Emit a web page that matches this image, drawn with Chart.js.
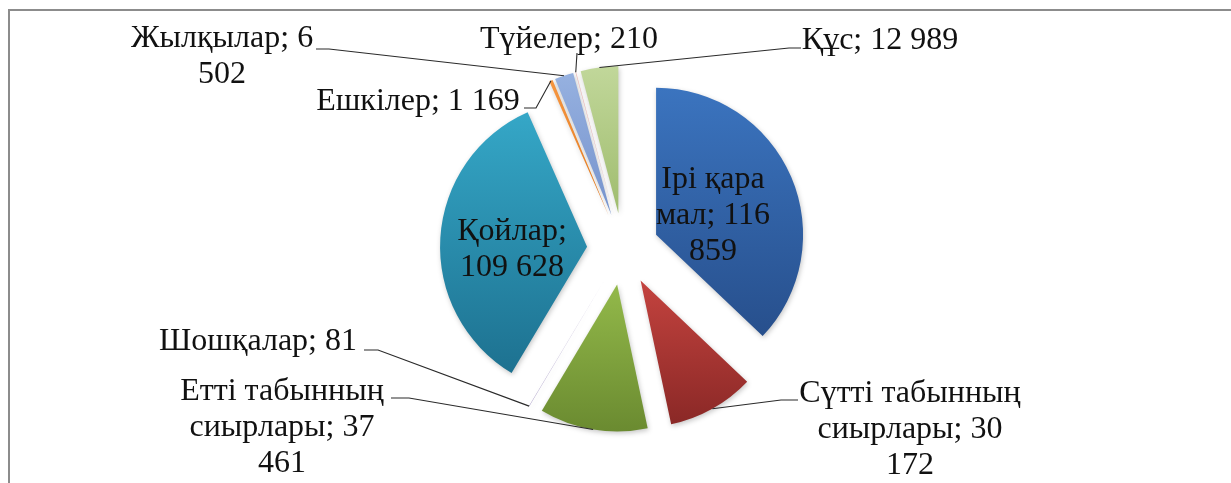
<!DOCTYPE html>
<html>
<head>
<meta charset="utf-8">
<script src="https://cdn.jsdelivr.net/npm/chart.js@4.4.3/dist/chart.umd.min.js"></script>
<style>
  html, body { margin: 0; padding: 0; background: #fff; }
  body { width: 1231px; height: 483px; overflow: hidden; position: relative; }
  #frame { position: absolute; left: 8px; top: 9px; width: 1300px; height: 600px;
           border-left: 2px solid #8c8c8c; border-top: 2px solid #8c8c8c; }
  #pie { position: absolute; left: 0; top: 0; }
</style>
</head>
<body>
<div id="frame"></div>
<canvas id="pie" width="1231" height="483"></canvas>
<script>
// Livestock numbers (head)
const categories = ['Ірі қара мал', 'Сүтті табынның сиырлары', 'Етті табынның сиырлары', 'Шошқалар',
  'Қойлар', 'Ешкілер', 'Жылқылар', 'Түйелер', 'Құс'];
const values = [116859, 30172, 37461, 81, 109628, 1169, 6502, 210, 12989];

// gradient colours per slice: top -> bottom
const topColors = ['#3b74bf', '#c4433f', '#93b94a', '#a99bc9', '#35a7c7', '#f7963f', '#96b1e0', '#ebb5b3', '#c1d79a'];
const bottomColors = ['#274f8c', '#8a2826', '#6a8a30', '#8170ad', '#1d7190', '#e57a1e', '#7592cc', '#d99896', '#9fbc6e'];

const RADIUS = 147;
const EXPLODE = 36;
const FONT = '32px "Liberation Serif", "Times New Roman", serif';
const LINE_H = 36;

// label placement: text centre x, first baseline y, wrap width, leader path (label side first)
const labelLayout = [
  { x: 713, y: 188, wrap: 125 },
  { x: 910, y: 402, wrap: 230, path: [[798, 400], [781, 400]] },
  { x: 282, y: 400, wrap: 230, path: [[391, 398], [409, 398]] },
  { x: 258, y: 350, wrap: 400, path: [[364, 350], [378, 350]] },
  { x: 512, y: 240, wrap: 125 },
  { x: 418, y: 110, wrap: 400, path: [[524, 108], [536, 108]] },
  { x: 222, y: 47, wrap: 200, path: [[316, 49], [329, 49]] },
  { x: 569, y: 48, wrap: 400, path: [[577, 53]] },
  { x: 880, y: 49, wrap: 400, path: [[801, 48], [789, 48]] }
];

function fmt(v) {
  return String(v).replace(/\B(?=(\d{3})+(?!\d))/g, ' ');
}

function wrapText(ctx, text, maxW) {
  const words = text.split(' ');
  const lines = [];
  let cur = '';
  for (const w of words) {
    const test = cur ? cur + ' ' + w : w;
    if (cur && ctx.measureText(test).width > maxW) {
      lines.push(cur);
      cur = w;
    } else {
      cur = test;
    }
  }
  if (cur) lines.push(cur);
  return lines;
}

function pieCenter(chart) {
  const a = chart.chartArea;
  return { cx: (a.left + a.right) / 2, cy: (a.top + a.bottom) / 2 };
}

// vertical extent of an exploded slice, worked out from the data
function sliceBox(chart, i) {
  const { cy } = pieCenter(chart);
  const total = values.reduce((a, b) => a + b, 0);
  let a0 = 0;
  for (let k = 0; k < i; k++) a0 += values[k] / total * Math.PI * 2;
  const a1 = a0 + values[i] / total * Math.PI * 2;
  const mid = (a0 + a1) / 2;
  const ay = cy - Math.cos(mid) * EXPLODE;
  let top = ay, bot = ay;
  for (let s = 0; s <= 40; s++) {
    const t = a0 + (a1 - a0) * s / 40;
    const y = ay - Math.cos(t) * RADIUS;
    top = Math.min(top, y);
    bot = Math.max(bot, y);
  }
  return { top, bot };
}

function sliceFill(context) {
  const chart = context.chart;
  const i = context.dataIndex;
  if (!chart.chartArea || i === undefined) return topColors[i || 0];
  const { top, bot } = sliceBox(chart, i);
  const g = chart.ctx.createLinearGradient(0, top, 0, bot + 1);
  g.addColorStop(0, topColors[i]);
  g.addColorStop(1, bottomColors[i]);
  return g;
}

// push every slice out from the centre along its mid angle
const explodePlugin = {
  id: 'explode',
  beforeDatasetsDraw(chart) {
    const { cx, cy } = pieCenter(chart);
    chart.getDatasetMeta(0).data.forEach(el => {
      const mid = (el.startAngle + el.endAngle) / 2;
      el.x = cx + Math.cos(mid) * EXPLODE;
      el.y = cy + Math.sin(mid) * EXPLODE;
    });
    const ctx = chart.ctx;
    ctx.save();
    ctx.shadowColor = 'rgba(0,0,0,0.22)';
    ctx.shadowBlur = 5;
    ctx.shadowOffsetX = 1;
    ctx.shadowOffsetY = 2;
  },
  afterDatasetsDraw(chart) {
    chart.ctx.restore();
  }
};

const labelPlugin = {
  id: 'sliceLabels',
  afterDraw(chart) {
    const ctx = chart.ctx;
    const meta = chart.getDatasetMeta(0);
    ctx.save();
    ctx.font = FONT;
    ctx.fillStyle = '#111';
    ctx.textAlign = 'center';
    ctx.textBaseline = 'alphabetic';
    meta.data.forEach((el, i) => {
      const lay = labelLayout[i];
      const text = categories[i] + '; ' + fmt(values[i]);
      const lines = wrapText(ctx, text, lay.wrap);
      lines.forEach((ln, k) => ctx.fillText(ln, lay.x, lay.y + k * LINE_H));
      if (lay.path) {
        const mid = (el.startAngle + el.endAngle) / 2;
        const ax = el.x + Math.cos(mid) * el.outerRadius;
        const ay = el.y + Math.sin(mid) * el.outerRadius;
        ctx.beginPath();
        ctx.moveTo(lay.path[0][0], lay.path[0][1]);
        for (let k = 1; k < lay.path.length; k++) ctx.lineTo(lay.path[k][0], lay.path[k][1]);
        ctx.lineTo(ax, ay);
        ctx.strokeStyle = '#2a2a2a';
        ctx.lineWidth = 1.1;
        ctx.stroke();
      }
    });
    ctx.restore();
  }
};

new Chart(document.getElementById('pie'), {
  type: 'pie',
  data: {
    labels: categories,
    datasets: [{
      data: values,
      backgroundColor: sliceFill,
      borderWidth: 0
    }]
  },
  options: {
    responsive: false,
    animation: false,
    radius: RADIUS,
    layout: { padding: { left: 15, right: 0, top: 15, bottom: 0 } },
    plugins: {
      legend: { display: false },
      tooltip: { enabled: false }
    }
  },
  plugins: [explodePlugin, labelPlugin]
});
</script>
</body>
</html>
